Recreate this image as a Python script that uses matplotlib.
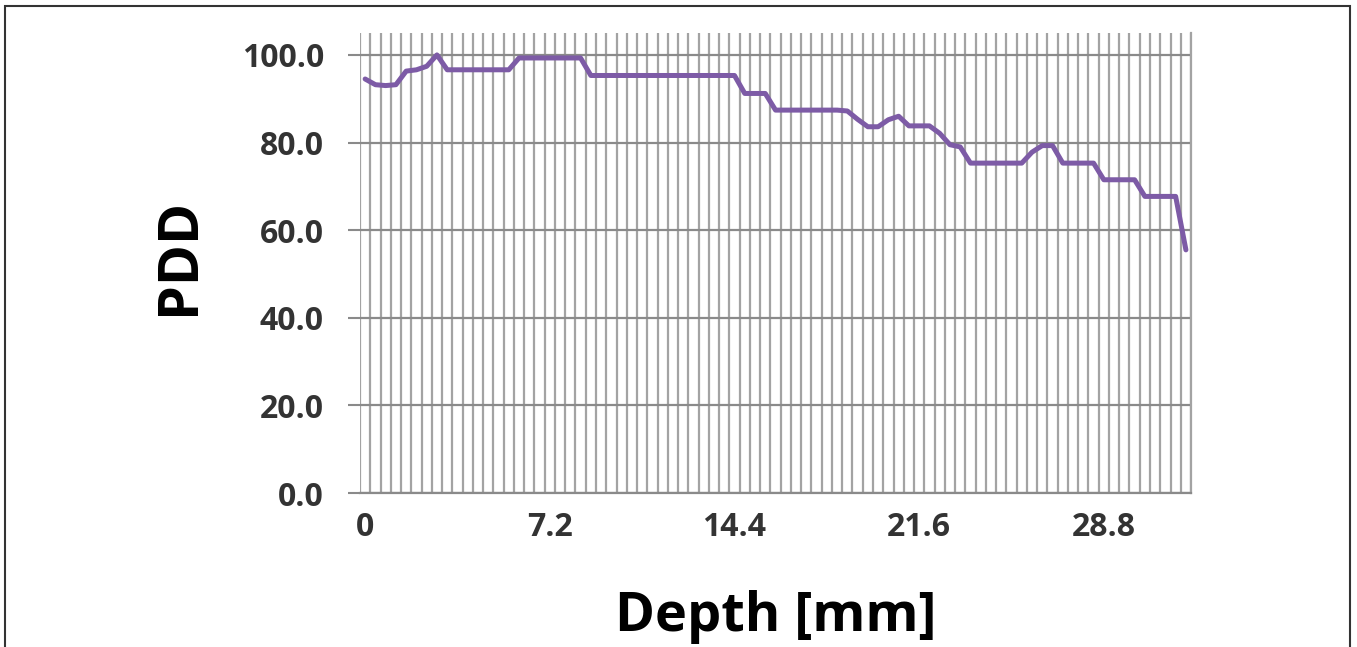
import matplotlib

matplotlib.use("Agg")
import matplotlib.pyplot as plt
import numpy as np
from matplotlib.patches import Rectangle

plt.rcParams["font.family"] = ["Open Sans", "DejaVu Sans"]

# depth categories (mm), one point every 0.4 mm
depth = [
    0.0, 0.4, 0.8, 1.2, 1.6, 2.0, 2.4, 2.8, 3.2, 3.6,
    4.0, 4.4, 4.8, 5.2, 5.6, 6.0, 6.4, 6.8, 7.2, 7.6,
    8.0, 8.4, 8.8, 9.2, 9.6, 10.0, 10.4, 10.8, 11.2, 11.6,
    12.0, 12.4, 12.8, 13.2, 13.6, 14.0, 14.4, 14.8, 15.2, 15.6,
    16.0, 16.4, 16.8, 17.2, 17.6, 18.0, 18.4, 18.8, 19.2, 19.6,
    20.0, 20.4, 20.8, 21.2, 21.6, 22.0, 22.4, 22.8, 23.2, 23.6,
    24.0, 24.4, 24.8, 25.2, 25.6, 26.0, 26.4, 26.8, 27.2, 27.6,
    28.0, 28.4, 28.8, 29.2, 29.6, 30.0, 30.4, 30.8, 31.2, 31.6,
    32.0,
]

pdd = [
    94.5, 93.2, 93.0, 93.2, 96.3, 96.6, 97.4, 100.0, 96.6, 96.6,
    96.6, 96.6, 96.6, 96.6, 96.6, 99.3, 99.3, 99.3, 99.3, 99.3,
    99.3, 99.3, 95.3, 95.3, 95.3, 95.3, 95.3, 95.3, 95.3, 95.3,
    95.3, 95.3, 95.3, 95.3, 95.3, 95.3, 95.3, 91.2, 91.2, 91.2,
    87.4, 87.4, 87.4, 87.4, 87.4, 87.4, 87.4, 87.2, 85.3, 83.6,
    83.6, 85.2, 86.0, 83.8, 83.8, 83.8, 82.1, 79.5, 79.0, 75.3,
    75.3, 75.3, 75.3, 75.3, 75.3, 77.8, 79.3, 79.3, 75.3, 75.3,
    75.3, 75.3, 71.5, 71.5, 71.5, 71.5, 67.7, 67.7, 67.7, 67.7,
    55.5,
]

label_every = 18

fig = plt.figure(figsize=(13.57, 6.47), dpi=100)
ax = fig.add_axes([0.2653, 0.238, 0.6124, 0.711])

x = np.arange(len(depth))
ax.plot(x, pdd, color="#7d5ba6", lw=3.6, solid_joinstyle="round",
        solid_capstyle="round", zorder=3)

ax.set_xlim(-0.5, len(depth) - 0.5)
ax.set_ylim(0, 105)

ax.set_yticks(np.arange(0, 101, 20))
ax.set_yticklabels(["%.1f" % v for v in np.arange(0, 101, 20)])
ax.set_xticks(x[::label_every])
ax.set_xticklabels(["%g" % d for d in depth[::label_every]])
ax.set_xticks(np.arange(-0.5, len(depth), 1), minor=True)

ax.grid(axis="x", which="minor", color="#a3a3a3", lw=1.6, zorder=1)
ax.grid(axis="y", which="major", color="#8a8a8a", lw=1.6, zorder=2)

for s in ["top", "left"]:
    ax.spines[s].set_visible(False)
ax.spines["right"].set_color("#a3a3a3")
ax.spines["right"].set_linewidth(1.6)
ax.spines["bottom"].set_color("#8a8a8a")
ax.spines["bottom"].set_linewidth(1.6)

ax.tick_params(axis="y", which="major", length=9, width=1.5, color="#8a8a8a",
               pad=17, labelsize=23, labelcolor="#333333")
ax.tick_params(axis="x", which="both", length=0, pad=13, labelsize=23,
               labelcolor="#333333")
for t in ax.get_xticklabels() + ax.get_yticklabels():
    t.set_fontweight("bold")

ax.set_xlabel("Depth [mm]", fontsize=39, fontweight="bold")
ax.xaxis.set_label_coords(0.5, -0.21)
ax.set_ylabel("PDD", fontsize=40, fontweight="bold")
ax.yaxis.set_label_coords(-0.184, 0.515)

# outer frame of the picture
fig.patches.append(Rectangle((5 / 1357, -0.02), 1345 / 1357, 1.02 - 6 / 647,
                             transform=fig.transFigure, fill=False,
                             edgecolor="#333333", lw=1.5))

plt.savefig("out.png", dpi=100)
